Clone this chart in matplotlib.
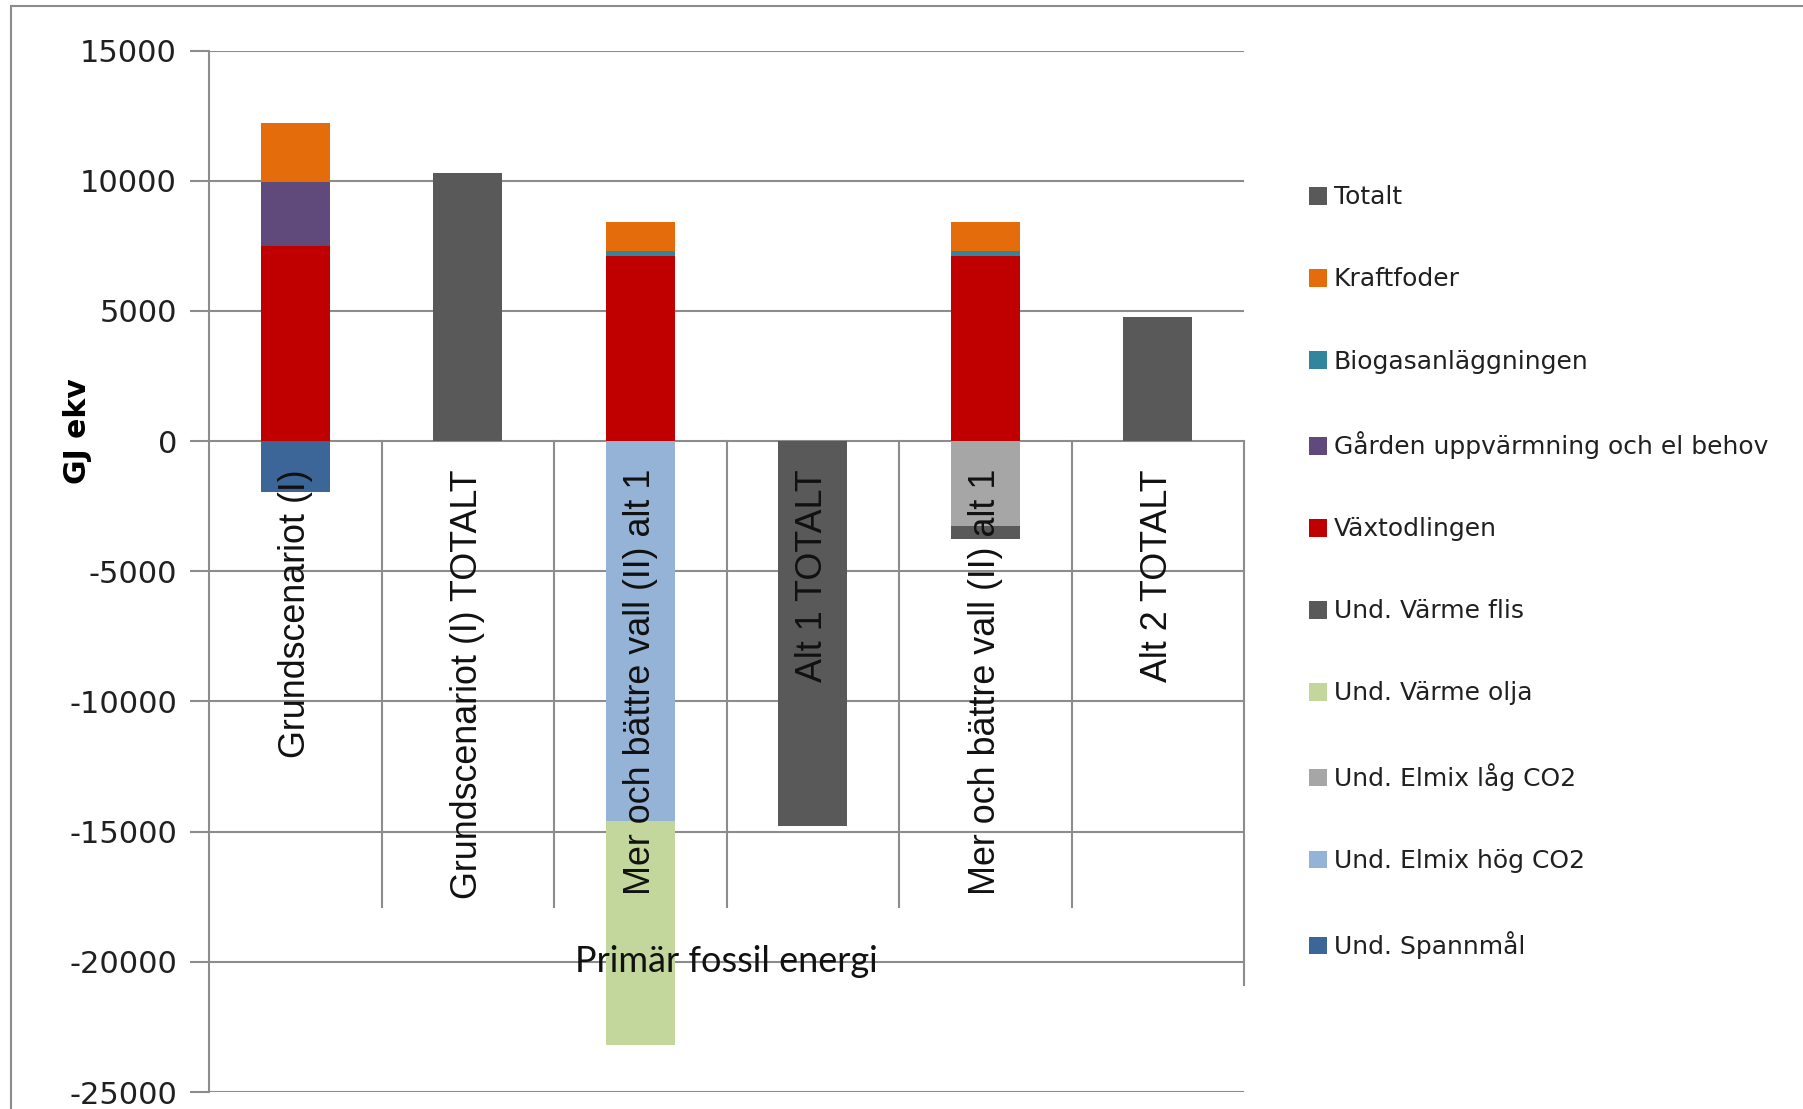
import numpy as np
import matplotlib
matplotlib.use('Agg')
from matplotlib import pyplot as plt
from matplotlib.patches import Patch, Rectangle

plt.rcParams['axes.unicode_minus'] = False

# categories on the x axis and the group label under them
categories = ['Grundscenariot (I)', 'Grundscenariot (I) TOTALT',
              'Mer och bättre vall (II) alt 1', 'Alt 1 TOTALT',
              'Mer och bättre vall (II) alt 1', 'Alt 2 TOTALT']
group_label = 'Primär fossil energi'

# series in the order Excel stacks them (legend shows them reversed)
series_names = ['Und. Spannmål', 'Und. Elmix hög CO2', 'Und. Elmix låg CO2',
                'Und. Värme olja', 'Und. Värme flis', 'Växtodlingen',
                'Gården uppvärmning och el behov', 'Biogasanläggningen',
                'Kraftfoder', 'Totalt']
und_spannmal = [-1950, 0, 0, 0, 0, 0]
und_elmix_hog = [0, 0, -14600, 0, 0, 0]
und_elmix_lag = [0, 0, 0, 0, -3270, 0]
und_varme_olja = [0, 0, -8600, 0, 0, 0]
und_varme_flis = [0, 0, 0, 0, -490, 0]
vaxtodlingen = [7500, 0, 7100, 0, 7100, 0]
garden = [2450, 0, 0, 0, 0, 0]
biogas = [0, 0, 200, 0, 200, 0]
kraftfoder = [2250, 0, 1100, 0, 1100, 0]
totalt = [0, 10300, 0, -14800, 0, 4750]

colors = ['#3C6698', '#95B3D7', '#A6A6A6', '#C3D69B', '#595959',
          '#C00000', '#604A7B', '#31859C', '#E46C0A', '#595959']

yticks = [15000, 10000, 5000, 0, -5000, -10000, -15000, -20000, -25000]

data = [und_spannmal, und_elmix_hog, und_elmix_lag, und_varme_olja,
        und_varme_flis, vaxtodlingen, garden, biogas, kraftfoder, totalt]

fig = plt.figure(figsize=(18.03, 11.09), dpi=100)
ax = fig.add_axes([209 / 1803, 1 - 1092 / 1109, 1035 / 1803, (1092 - 50.6) / 1109])

x = np.arange(len(categories))
pos_bottom = np.zeros(len(categories))
neg_bottom = np.zeros(len(categories))
for vals, col in zip(data, colors):
    vals = np.array(vals, dtype=float)
    bottom = np.where(vals >= 0, pos_bottom, neg_bottom)
    ax.bar(x, vals, width=0.4, bottom=bottom, color=col, zorder=3)
    pos_bottom += np.clip(vals, 0, None)
    neg_bottom += np.clip(vals, None, 0)

gridcol = '#8C8C8C'
ax.set_xlim(-0.5, len(categories) - 0.5)
ax.set_ylim(-25000, 15000)
ax.set_yticks(yticks)
ax.set_yticklabels([str(t) for t in yticks], fontsize=22, family='DejaVu Sans',
                   color='#202020')
ax.tick_params(axis='y', length=14, width=1.5, color=gridcol, pad=9)
ax.set_xticks([])
for t in yticks:
    ax.axhline(t, color=gridcol, lw=1.5, zorder=1)
for s in ['top', 'right', 'bottom']:
    ax.spines[s].set_visible(False)
ax.spines['left'].set_color(gridcol)
ax.spines['left'].set_linewidth(1.5)

# category separators (multi-level axis look)
for i in range(1, len(categories)):
    ax.plot([i - 0.5, i - 0.5], [0, -17900], color=gridcol, lw=1.5, zorder=2)
ax.plot([len(categories) - 0.5] * 2, [0, -20900], color=gridcol, lw=1.5,
        zorder=2, clip_on=False)

for i, lab in enumerate(categories):
    ax.annotate(lab, (i, 0), xytext=(0, -20), textcoords='offset points',
                rotation=90, ha='center', va='top', fontsize=25.8,
                family='Liberation Sans', color='#111111', zorder=5)

ax.text((len(categories) - 1) / 2, -20000, group_label, ha='center',
        va='center', fontsize=26, family='Lato', color='#111111', zorder=5)

fig.text(78 / 1803, 1 - 431 / 1109, 'GJ ekv', rotation=90, ha='center',
         va='center', fontsize=21.5, fontweight='bold', family='DejaVu Sans')

handles = [Patch(facecolor=c) for c in colors][::-1]
ax.legend(handles, series_names[::-1], loc='upper left',
          bbox_to_anchor=(1286 / 1803, 1 - 163 / 1109),
          bbox_transform=fig.transFigure, frameon=False,
          prop={'family': 'DejaVu Sans', 'size': 18},
          handlelength=0.72, handleheight=0.72, handletextpad=0.3,
          labelspacing=2.32, labelcolor='#202020')

fig.patches.append(Rectangle((11 / 1803, -0.1), 1.2, 1.1 - 6 / 1109,
                             transform=fig.transFigure, fill=False,
                             edgecolor='#8C8C8C', lw=1.5))

fig.savefig('out.png', dpi=100)
